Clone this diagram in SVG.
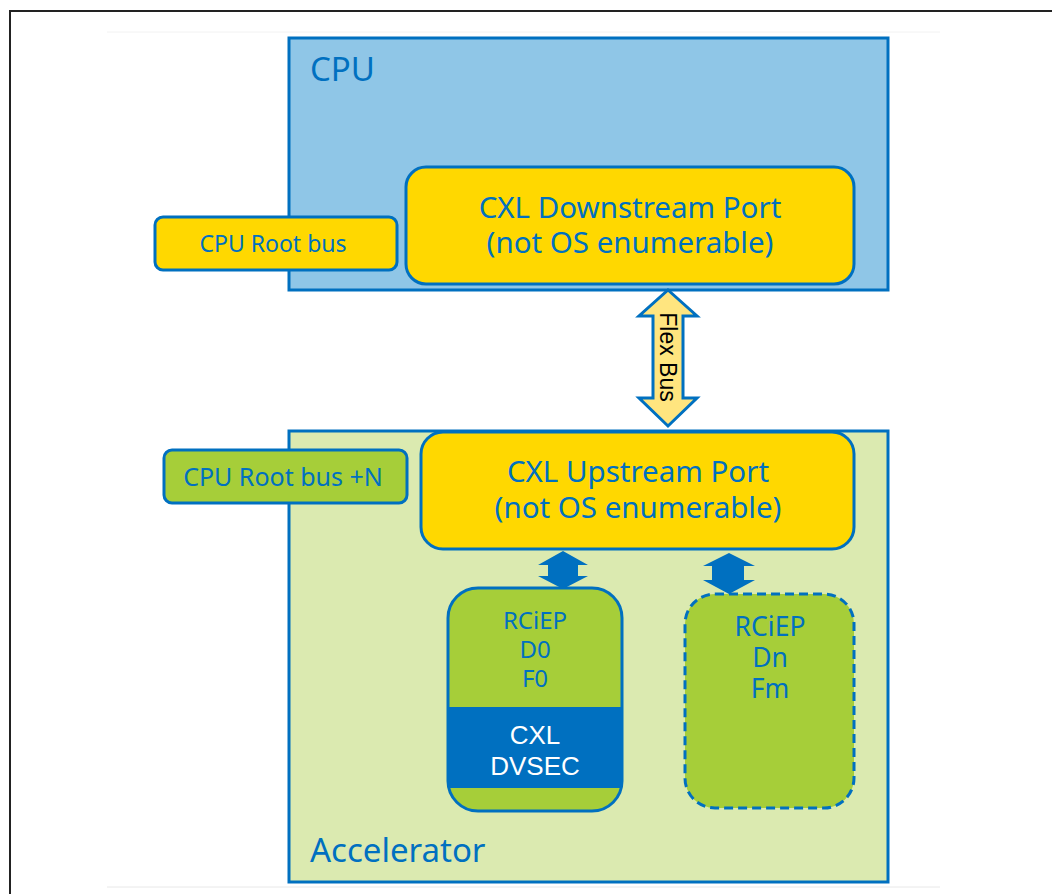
<svg xmlns="http://www.w3.org/2000/svg" width="1052" height="894" viewBox="0 0 1052 894">
<style>
.t{font-family:"Noto Sans","Open Sans",sans-serif;fill:#0070C0;text-anchor:middle}
.a{font-family:"Liberation Sans",Arial,sans-serif;text-anchor:middle}
.blue{stroke:#0070C0;stroke-width:3}
</style>
<rect x="0" y="0" width="1052" height="894" fill="#fff"/>
<path d="M10 894 V11 H1052" fill="none" stroke="#222" stroke-width="2"/>
<line x1="107" y1="32" x2="940" y2="32" stroke="#f2f2f2" stroke-width="1"/>
<line x1="107" y1="887" x2="940" y2="887" stroke="#e8e8e8" stroke-width="1"/>

<g id="cpu">
<rect x="289" y="38" width="599" height="252" fill="#8FC6E7" class="blue"/>
<text x="310" y="81" class="t" style="text-anchor:start;font-size:33px">CPU</text>
</g>
<g id="accelerator">
<rect x="289" y="431" width="599" height="451" fill="#DBEAB0" class="blue"/>
<text x="310" y="862" class="t" style="text-anchor:start;font-size:33px">Accelerator</text>
</g>
<g id="dsp">
<rect x="406" y="167" width="448" height="117" rx="20" fill="#FFD800" class="blue"/>
<text x="630" y="218" class="t" style="font-size:29.5px">CXL Downstream Port</text>
<text x="630" y="253" class="t" style="font-size:29.5px">(not OS enumerable)</text>
</g>
<g id="rootbus">
<rect x="155" y="217" width="242" height="53" rx="8" fill="#FFD800" class="blue"/>
<text x="273" y="252" class="t" style="font-size:23px">CPU Root bus</text>
</g>
<g id="usp">
<rect x="421" y="432" width="433" height="117" rx="22" fill="#FFD800" class="blue"/>
<text x="638" y="482" class="t" style="font-size:29.5px">CXL Upstream Port</text>
<text x="638" y="518" class="t" style="font-size:29.5px">(not OS enumerable)</text>
</g>
<g id="rootbusN">
<rect x="164" y="450" width="243" height="53" rx="8" fill="#A6CE39" class="blue"/>
<text x="283" y="486" class="t" style="font-size:25px">CPU Root bus +N</text>
</g>
<g id="rciep0">
<rect x="448" y="588" width="174" height="223" rx="30" fill="#A6CE39"/>
<rect x="449" y="707" width="172" height="81" fill="#0070C0"/>
<rect x="448" y="588" width="174" height="223" rx="30" fill="none" class="blue"/>
<text x="535" y="629" class="t" style="font-size:24px">RCiEP</text>
<text x="535" y="658" class="t" style="font-size:24px">D0</text>
<text x="535" y="687" class="t" style="font-size:24px">F0</text>
<text x="535" y="744" class="a" style="font-size:26px;fill:#fff">CXL</text>
<text x="535" y="775" class="a" style="font-size:26px;fill:#fff">DVSEC</text>
</g>
<g id="rciepn">
<rect x="685" y="594" width="169" height="214" rx="30" fill="#A6CE39" stroke="#0070C0" stroke-width="3" stroke-dasharray="9,5"/>
<text x="770" y="636" class="t" style="font-size:26.5px">RCiEP</text>
<text x="770" y="667" class="t" style="font-size:26.5px">Dn</text>
<text x="770" y="698" class="t" style="font-size:26.5px">Fm</text>
</g>
<g id="connectors">
<path d="M668 290 L697 316 L683 316 L683 398 L697 398 L668 426 L639 398 L653 398 L653 316 L639 316 Z" fill="#FFE57F" stroke="#0070C0" stroke-width="3" stroke-linejoin="miter"/>
<text transform="translate(660,357) rotate(90)" class="a" style="font-size:23px;fill:#000">Flex Bus</text>
<path d="M563 551 L588 565 L578 565 L578 576 L588 576 L563 589 L538 576 L548 576 L548 565 L538 565 Z" fill="#0070C0"/>
<path d="M729 553 L755 566 L744 566 L744 580 L755 580 L729 594 L703 580 L712 580 L712 566 L703 566 Z" fill="#0070C0"/>
</g>
</svg>
